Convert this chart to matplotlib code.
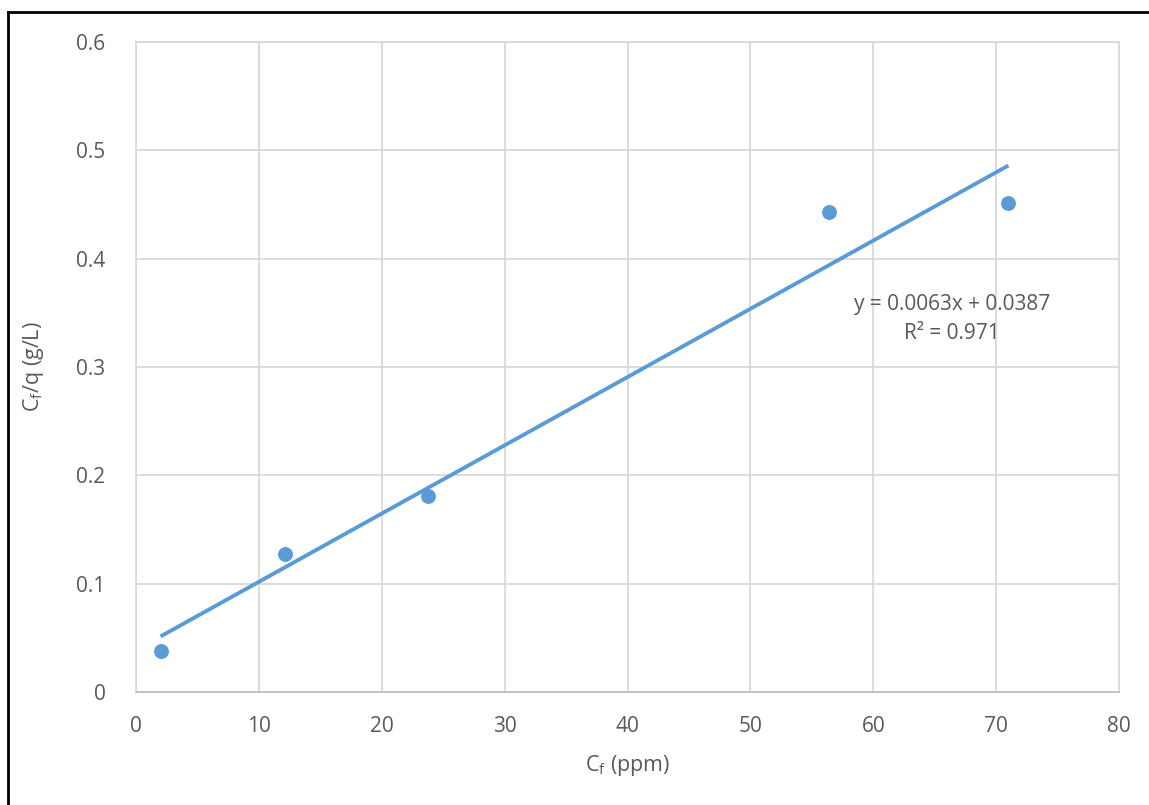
import matplotlib.pyplot as plt
from matplotlib.lines import Line2D

plt.rcParams['font.family'] = ['Open Sans', 'DejaVu Sans']

# Langmuir linearisation data
cf = [2.0, 12.1, 23.8, 56.4, 71.0]
cf_over_q = [0.038, 0.127, 0.181, 0.443, 0.451]

# Linear trendline
slope = 0.0063
intercept = 0.0387
r2 = 0.971

x_ticks = [0, 10, 20, 30, 40, 50, 60, 70, 80]
y_ticks = [0, 0.1, 0.2, 0.3, 0.4, 0.5, 0.6]

blue = '#5b9bd5'
grid_c = '#d9d9d9'
text_c = '#595959'

fig = plt.figure(figsize=(11.49, 8.05), dpi=100)
ax = fig.add_axes([0.1184, 0.1404, 0.8555, 0.8074])

x0, x1 = min(cf), max(cf)
ax.plot([x0, x1], [slope * x0 + intercept, slope * x1 + intercept],
        color=blue, lw=2.8, solid_capstyle='butt', zorder=3)
ax.scatter(cf, cf_over_q, s=115, color=blue, zorder=4, linewidths=0)

ax.set_xlim(0, 80)
ax.set_ylim(0, 0.6)
ax.set_xticks(x_ticks)
ax.set_yticks(y_ticks)
ax.set_xticklabels([str(t) for t in x_ticks])
ax.set_yticklabels(['0'] + [f'{t:.1f}' for t in y_ticks[1:]])
ax.grid(True, color=grid_c, lw=1.3)
ax.set_axisbelow(True)
for s in ax.spines.values():
    s.set_color(grid_c)
    s.set_linewidth(1.3)
ax.spines['bottom'].set_color('#bfbfbf')
ax.tick_params(length=0, labelsize=15, labelcolor=text_c)
ax.tick_params(axis='x', pad=17)
ax.tick_params(axis='y', pad=22)

ax.set_xlabel('C$_\\mathregular{f}$ (ppm)', fontsize=15.5, color=text_c, labelpad=12)
ax.set_ylabel('C$_\\mathregular{f}$/q (g/L)', fontsize=15.5, color=text_c, labelpad=22)

ax.text(66.4, 0.358, f'y = {slope}x + {intercept}', ha='center', va='center',
        fontsize=15, color=text_c)
ax.text(66.4, 0.331, f'R² = {r2}', ha='center', va='center',
        fontsize=15, color=text_c)

# outer frame (top and left edges)
fig.add_artist(Line2D([8 / 1149, 8 / 1149], [0, 1 - 12 / 805], color='black', lw=2,
                      transform=fig.transFigure))
fig.add_artist(Line2D([8 / 1149, 1], [1 - 12 / 805, 1 - 12 / 805], color='black', lw=2,
                      transform=fig.transFigure))

fig.savefig('out.png', dpi=100)
